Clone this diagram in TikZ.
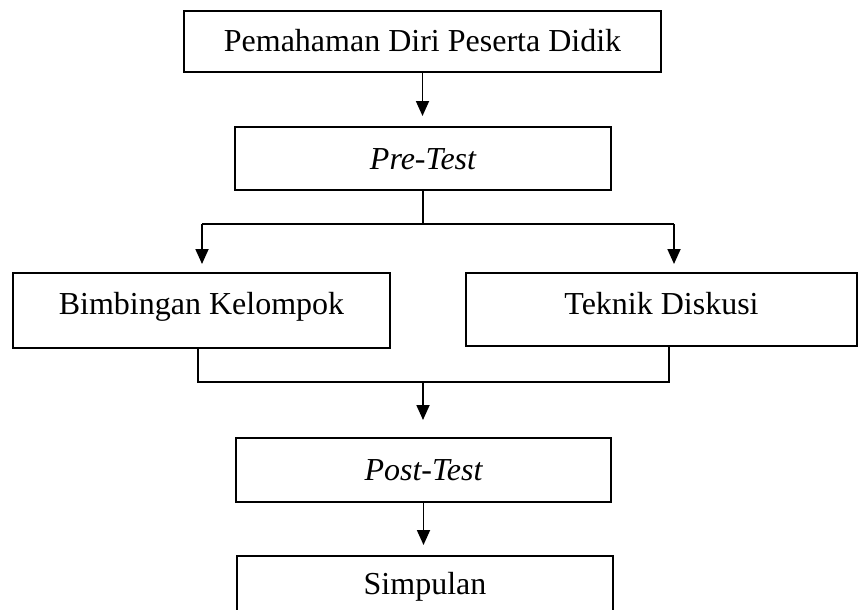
\documentclass[tikz,border=0pt]{standalone}
\usepackage{fontspec}
\setmainfont{Liberation Serif}
\usetikzlibrary{arrows.meta}
\begin{document}
\begin{tikzpicture}[x=1pt,y=-1pt,
  box/.style={draw, line width=2pt, inner sep=0pt, text height=21pt, text depth=0pt, font=\fontsize{32}{38}\selectfont},
  conn/.style={line width=1.8pt},
  arr/.style={conn, -{Triangle[length=15pt,width=13pt]}}]
\useasboundingbox (0,0) rectangle (859,610);
\node[box, minimum width=477pt, minimum height=61pt] (b1) at (422.5,41.5) {Pemahaman Diri Peserta Didik};
\node[box, minimum width=376pt, minimum height=63pt] (b2) at (423,158.5) {\itshape Pre-Test};
\node[box, minimum width=377pt, minimum height=75pt, text depth=14pt] (b3) at (201.5,310.5) {Bimbingan Kelompok};
\node[box, minimum width=391pt, minimum height=73pt, text depth=11pt] (b4) at (661.5,309.5) {Teknik Diskusi};
\node[box, minimum width=375pt, minimum height=64pt] (b5) at (423.5,470) {\itshape Post-Test};
\node[box, minimum width=376pt, minimum height=64pt, text depth=9pt] (b6) at (425,588) {Simpulan};
\coordinate (sl) at (202,224);
\coordinate (sr) at (674,224);
\coordinate (jl) at (198,382);
\coordinate (jr) at (669,382);
\coordinate (jm) at (423,382);
\draw[arr, shorten >=10pt] (b1.south) -- (b1.south |- b2.north);
\draw[conn] (b2.south) -- (b2.south |- sl);
\draw[conn] (sl) -- (sr);
\draw[arr, shorten >=8pt] (sl) -- (sl |- b3.north);
\draw[arr, shorten >=8pt] (sr) -- (sr |- b4.north);
\draw[conn] (b3.south -| jl) -- (jl) -- (jr) -- (b4.south -| jr);
\draw[arr, shorten >=17pt] (jm) -- (jm |- b5.north);
\draw[arr, shorten >=10pt] (b5.south) -- (b5.south |- b6.north);
\end{tikzpicture}
\end{document}
